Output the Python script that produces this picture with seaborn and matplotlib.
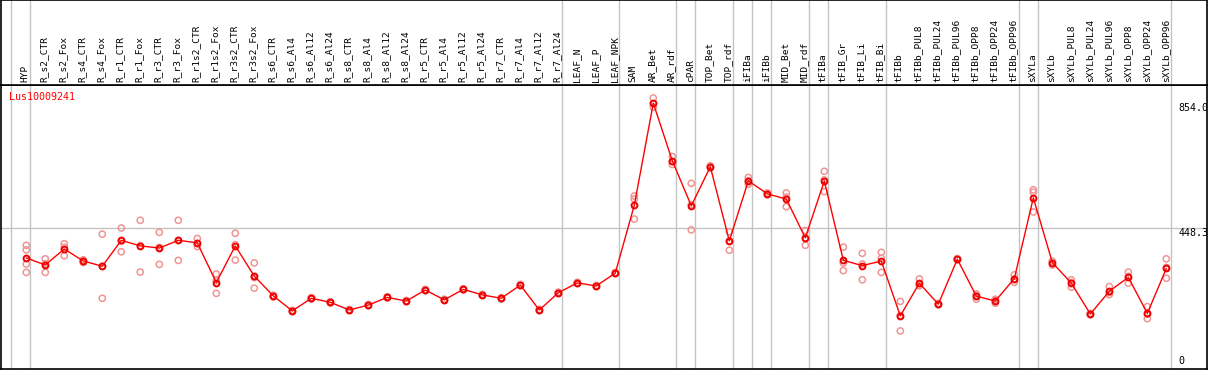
import numpy as np
import pandas as pd
import matplotlib
matplotlib.use("Agg")
import matplotlib.pyplot as plt
import seaborn as sns

gene = "Lus10009241"

samples = ["HYP", "R_s2_CTR", "R_s2_Fox", "R_s4_CTR", "R_s4_Fox", "R_r1_CTR", "R_r1_Fox",
           "R_r3_CTR", "R_r3_Fox", "R_r1s2_CTR", "R_r1s2_Fox", "R_r3s2_CTR", "R_r3s2_Fox",
           "R_s6_CTR", "R_s6_Al4", "R_s6_Al12", "R_s6_Al24", "R_s8_CTR", "R_s8_Al4",
           "R_s8_Al12", "R_s8_Al24", "R_r5_CTR", "R_r5_Al4", "R_r5_Al12", "R_r5_Al24",
           "R_r7_CTR", "R_r7_Al4", "R_r7_Al12", "R_r7_Al24", "LEAF_N", "LEAF_P", "LEAF_NPK",
           "SAM", "AR_Bet", "AR_rdf", "cPAR", "TOP_Bet", "TOP_rdf", "iFIBa", "iFIBb",
           "MID_Bet", "MID_rdf", "tFIBa", "tFIB_Gr", "tFIB_Li", "tFIB_Bi", "tFIBb",
           "tFIBb_PUL8", "tFIBb_PUL24", "tFIBb_PUL96", "tFIBb_OPP8", "tFIBb_OPP24",
           "tFIBb_OPP96", "sXYLa", "sXYLb", "sXYLb_PUL8", "sXYLb_PUL24", "sXYLb_PUL96",
           "sXYLb_OPP8", "sXYLb_OPP24", "sXYLb_OPP96"]

means = [351, 328, 380, 341, 324, 408, 390, 383, 408, 400, 271, 390, 292,
         228, 179, 220, 207, 182, 198, 223, 211, 247, 215, 249, 231, 220, 263, 182, 238,
         270, 260, 302, 522, 853, 666, 520, 647, 406, 601, 559, 542, 416, 601,
         343, 326, 341, 163, 269, 201, 347, 227, 211, 284, 546, 336, 269, 169,
         243, 288, 171, 317]

replicates = [
    [392, 377, 331, 304], [348, 332, 304], [397, 385, 358], [345, 342, 336],
    [428, 324, 220], [448, 405, 371], [473, 391, 305], [434, 385, 330],
    [473, 408, 343], [414, 398, 388], [299, 277, 236], [431, 394, 344],
    [335, 287, 253], [230, 228, 225], [181, 179, 177], [222, 220, 218],
    [209, 207, 205], [184, 182, 180], [200, 198, 196], [225, 223, 221],
    [213, 211, 209], [249, 247, 245], [217, 215, 213], [251, 249, 247],
    [233, 231, 229], [222, 220, 218], [265, 263, 261], [184, 182, 180],
    [240, 238, 236], [272, 270, 268], [262, 260, 258], [304, 302, 300],
    [552, 542, 477], [870, 852, 840], [680, 664, 654], [593, 524, 442],
    [650, 647, 644], [436, 406, 376], [612, 601, 590], [562, 559, 556],
    [562, 548, 517], [440, 416, 392], [632, 604, 566], [386, 335, 310],
    [366, 331, 280], [369, 350, 304], [210, 164, 114], [283, 262, 261],
    [203, 201, 199], [349, 347, 345], [234, 229, 217], [217, 213, 204],
    [296, 283, 272], [572, 564, 500], [340, 339, 328], [280, 271, 256],
    [171, 169, 167], [258, 239, 232], [305, 291, 269], [193, 168, 154],
    [348, 320, 285]]

group_ends = [-1, 0, 28, 31, 34, 35, 37, 38, 39, 41, 42, 45, 52, 53, 60]
ref_value = 448.3
max_value = 854.0

df_mean = pd.DataFrame({"idx": np.arange(len(samples)), "value": means})
df_rep = pd.DataFrame([(i, v) for i, reps in enumerate(replicates) for v in reps],
                      columns=["idx", "value"])

sns.set_theme(style="white")
plt.rcParams["font.family"] = ["DejaVu Sans Mono", "DejaVu Sans"]

W, H = 1209, 370
fig = plt.figure(figsize=(W / 100, H / 100), dpi=100)


def box(x0, y0, x1, y1):
    return [x0 / W, 1 - y1 / H, (x1 - x0) / W, (y1 - y0) / H]


ax = fig.add_axes(box(1, 85, 1207, 369))
hx = fig.add_axes(box(1, 0, 1207, 85), sharex=ax)

grid_c = "#c4c4c4"
for g in group_ends:
    ax.axvline(g + 0.22, color=grid_c, lw=1.0, zorder=0)
    hx.axvline(g + 0.22, color=grid_c, lw=1.0, zorder=0)
ax.axhline(ref_value, color=grid_c, lw=1.0, zorder=0)

sns.scatterplot(data=df_rep, x="idx", y="value", ax=ax, marker="o", s=20,
                facecolors="none", edgecolor="#f09494", linewidth=1.1, zorder=2,
                legend=False)
sns.lineplot(data=df_mean, x="idx", y="value", ax=ax, color="#ff0000", lw=1.0,
             marker="o", markersize=4.2, markerfacecolor="none",
             markeredgecolor="#ee0000", markeredgewidth=1.4, zorder=3, legend=False)

ax.set_xlim(-1.33, 62.14)
ax.set_ylim(-9.4, 912)
ax.set_xlabel("")
ax.set_ylabel("")
ax.set_xticks([])
ax.set_yticks([])
hx.set_ylim(0, 1)
hx.set_xticks([])
hx.set_yticks([])
for a in (ax, hx):
    for sp in a.spines.values():
        sp.set_visible(True)
        sp.set_color("black")
        sp.set_linewidth(1.2)

for i, s in enumerate(samples):
    hx.text(i - 0.05, 0.035, s, rotation=90, ha="center", va="bottom",
            fontsize=6.8, color="black")

ax.text(0.0069, 0.975, gene, transform=ax.transAxes, ha="left", va="top",
        fontsize=7.2, color="#ff0000")

lab_x = 60.62
ax.text(lab_x, max_value, f"{max_value:.1f}", ha="left", va="top", fontsize=7.2,
        color="black", clip_on=True)
ax.text(lab_x, ref_value, f"{ref_value:.1f}", ha="left", va="top", fontsize=7.2,
        color="black", clip_on=True)
ax.text(lab_x, 0, "0", ha="left", va="bottom", fontsize=7.2, color="black")

fig.savefig("out.png", dpi=100)
